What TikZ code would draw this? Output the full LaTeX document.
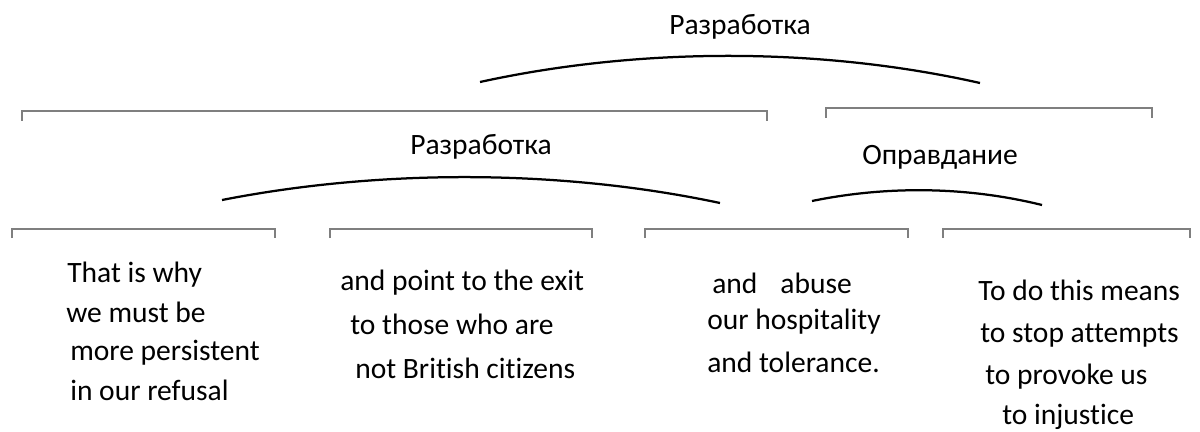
\documentclass[tikz,border=0pt]{standalone}
\usepackage{fontspec}
\setmainfont{Carlito}[Ligatures=NoCommon]
\usetikzlibrary{positioning}
\definecolor{spangray}{HTML}{7F7F7F}

\begin{document}
\begin{tikzpicture}[x=0.025cm, y=-0.025cm,
    spanLine/.style={draw=spangray, line width=1.3pt},
    relArc/.style={draw=black, line width=1.6pt},
    segText/.style={anchor=base west, inner sep=0pt, font=\fontsize{21}{25}\selectfont}
]
    \useasboundingbox (0,0) rectangle (1200,432);

    % top level
    \node[segText] (relTop) at (669,35) {Разработка};
    \coordinate (topL) at (480,82);
    \coordinate (topR) at (980,83);
    \draw[relArc] (topL) .. controls (640,47) and (820,47) .. (topR);

    \draw[spanLine] (22,121) -- (22,111) -- (767,111) -- (767,121);
    \draw[spanLine] (826,118) -- (826,108) -- (1152,108) -- (1152,118);

    % second level
    \node[segText] (relMid) at (410,155) {Разработка};
    \coordinate (midL) at (222,200);
    \coordinate (midR) at (720,203);
    \draw[relArc] (midL) .. controls (380,169) and (560,169) .. (midR);

    \node[segText] (relJust) at (862,165) {Оправдание};
    \coordinate (justL) at (812,201);
    \coordinate (justR) at (1042,205);
    \draw[relArc] (justL) .. controls (885,186) and (965,186) .. (justR);

    \draw[spanLine] (12,238) -- (12,229) -- (275,229) -- (275,238);
    \draw[spanLine] (330,238) -- (330,229) -- (592,229) -- (592,238);
    \draw[spanLine] (645,238) -- (645,229) -- (908,229) -- (908,238);
    \draw[spanLine] (943,238) -- (943,229) -- (1190,229) -- (1190,238);

    % segments
    \node[segText] (s1a) at (67,282) {That is why};
    \node[segText] (s1b) at (66,322) {we must be};
    \node[segText] (s1c) at (70,360) {more persistent};
    \node[segText] (s1d) at (70,400) {in our refusal};

    \node[segText] (s2a) at (340,290) {and point to the exit};
    \node[segText] (s2b) at (350,334) {to those who are};
    \node[segText] (s2c) at (355,378) {not British citizens};

    \node[segText] (s3a) at (712,293) {and\hspace{0.55em} abuse};
    \node[segText] (s3b) at (707,329) {our hospitality};
    \node[segText] (s3c) at (707,372) {and tolerance.};

    \node[segText] (s4a) at (978,300) {To do this means};
    \node[segText] (s4b) at (980,342) {to stop attempts};
    \node[segText] (s4c) at (985,384) {to provoke us};
    \node[segText] (s4d) at (1002,424) {to injustice};
\end{tikzpicture}
\end{document}
